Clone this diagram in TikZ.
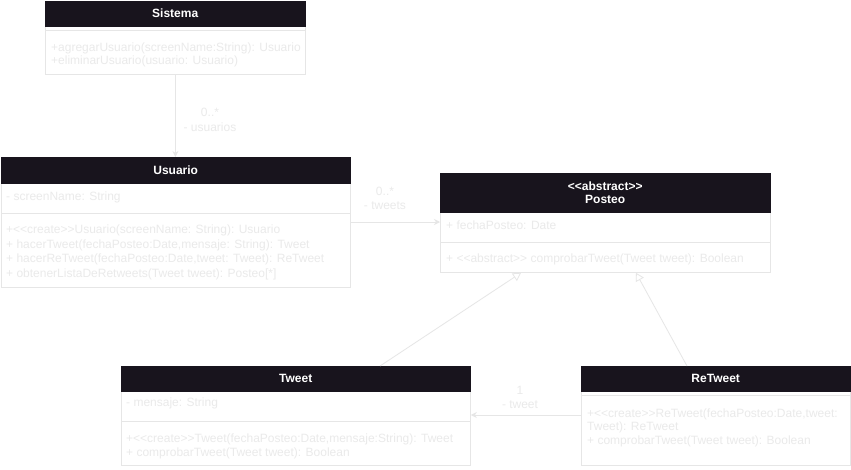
\documentclass[tikz,border=0pt]{standalone}
\usepackage{fontspec}
\setmainfont{Liberation Sans}
\usetikzlibrary{arrows.meta,calc}
\newcommand\dlt{<\kern0pt<}
\newcommand\dgt{>\kern0pt>}
\definecolor{hdrc}{HTML}{18141D}
\definecolor{lite}{HTML}{EAEAEA}
\definecolor{bord}{HTML}{E6E6E6}
\tikzset{
  box/.style={draw=bord, line width=0.8pt, fill=white, anchor=north west, inner sep=0pt, rectangle},
  hdr/.style={fill=hdrc, draw=hdrc, anchor=north west, inner sep=0pt, rectangle, text=white, font=\fontsize{12}{14}\selectfont\bfseries, align=center},
  txt/.style={anchor=west, inner sep=0pt, text=lite, font=\fontsize{12}{14}\selectfont},
  lbl/.style={inner sep=0pt, text=lite, font=\fontsize{12}{14}\selectfont},
  sepline/.style={draw=bord, line width=0.8pt},
  assoc/.style={draw=bord, line width=0.8pt, -{Stealth[length=6pt,width=6pt]}},
  inher/.style={draw=bord, line width=0.8pt, -{Triangle[open,length=8pt,width=9pt,fill=white]}}
}
\begin{document}
\begin{tikzpicture}[x=1pt,y=-1pt]
\useasboundingbox[fill=white] (0,0) rectangle (851,469);
% Sistema
\node[box, minimum width=260pt, minimum height=73pt] (sis) at (45,1) {};
\node[hdr, minimum width=260pt, minimum height=25pt] (sish) at (45,1) {Sistema};
\draw[sepline] (45,30) -- (305,30);
\node[txt] (s1) at (51,48) {+agregarUsuario(screenName:String): Usuario};
\node[txt] (s2) at (51,61) {+eliminarUsuario(usuario: Usuario)};
% Usuario
\node[box, minimum width=349pt, minimum height=130pt] (usu) at (1,157) {};
\node[hdr, minimum width=349pt, minimum height=26pt] (usuh) at (1,157) {Usuario};
\node[txt] (u1) at (6,197) {- screenName: String};
\draw[sepline] (1,213) -- (350,213);
\node[txt] (u2) at (6,230.5) {+\dlt create\dgt Usuario(screenName: String): Usuario};
\node[txt] (u3) at (6,245) {+ hacerTweet(fechaPosteo:Date,mensaje: String): Tweet};
\node[txt] (u4) at (6,259.5) {+ hacerReTweet(fechaPosteo:Date,tweet: Tweet): ReTweet};
\node[txt] (u5) at (6,274) {+ obtenerListaDeRetweets(Tweet tweet): Posteo[*]};
% Posteo
\node[box, minimum width=330pt, minimum height=99pt] (pos) at (440,173) {};
\node[hdr, minimum width=330pt, minimum height=39pt] (posh) at (440,173) {\dlt abstract\dgt\\[-1pt]Posteo};
\node[txt] (p1) at (446,225) {+ fechaPosteo: Date};
\draw[sepline] (440,242) -- (770,242);
\node[txt] (p2) at (446,259) {+ \dlt abstract\dgt{} comprobarTweet(Tweet tweet): Boolean};
% Tweet
\node[box, minimum width=349pt, minimum height=99pt] (twt) at (121,366) {};
\node[hdr, minimum width=349pt, minimum height=25pt] (twth) at (121,366) {Tweet};
\node[txt] (t1) at (126,403.5) {- mensaje: String};
\draw[sepline] (121,421) -- (470,421);
\node[txt] (t2) at (126,439) {+\dlt create\dgt Tweet(fechaPosteo:Date,mensaje:String): Tweet};
\node[txt] (t3) at (126,453.5) {+ comprobarTweet(Tweet tweet): Boolean};
% ReTweet
\node[box, minimum width=269pt, minimum height=99pt] (ret) at (581,366) {};
\node[hdr, minimum width=269pt, minimum height=25pt] (reth) at (581,366) {ReTweet};
\draw[sepline] (581,395) -- (850,395);
\node[txt] (r1) at (587,414) {+\dlt create\dgt ReTweet(fechaPosteo:Date,tweet:};
\node[txt] (r2) at (587,427) {Tweet): ReTweet};
\node[txt] (r3) at (587,441.5) {+ comprobarTweet(Tweet tweet): Boolean};
% connectors
\draw[assoc] (sis.south) -- (sis.south |- usu.north);
\node[lbl] (l1) at (210,112) {0..*};
\node[lbl] (l2) at (210,127) {- usuarios};
\draw[assoc] (usu.east |- 0,222) -- (pos.west |- 0,222);
\node[lbl] (l3) at (385,191) {0..*};
\node[lbl] (l4) at (385,206) {- tweets};
\draw[assoc] (ret.west |- 0,415) -- (twt.east |- 0,415);
\node[lbl] (l5) at (520,390) {1};
\node[lbl] (l6) at (520,405) {- tweet};
\coordinate (tw1) at ($(twt.north west)+(259,0)$);
\coordinate (po1) at ($(pos.south west)+(81,0)$);
\draw[inher] (tw1) -- (po1);
\coordinate (rt1) at ($(ret.north west)+(106,0)$);
\coordinate (po2) at ($(pos.south west)+(196,0)$);
\draw[inher] (rt1) -- (po2);
\end{tikzpicture}
\end{document}
